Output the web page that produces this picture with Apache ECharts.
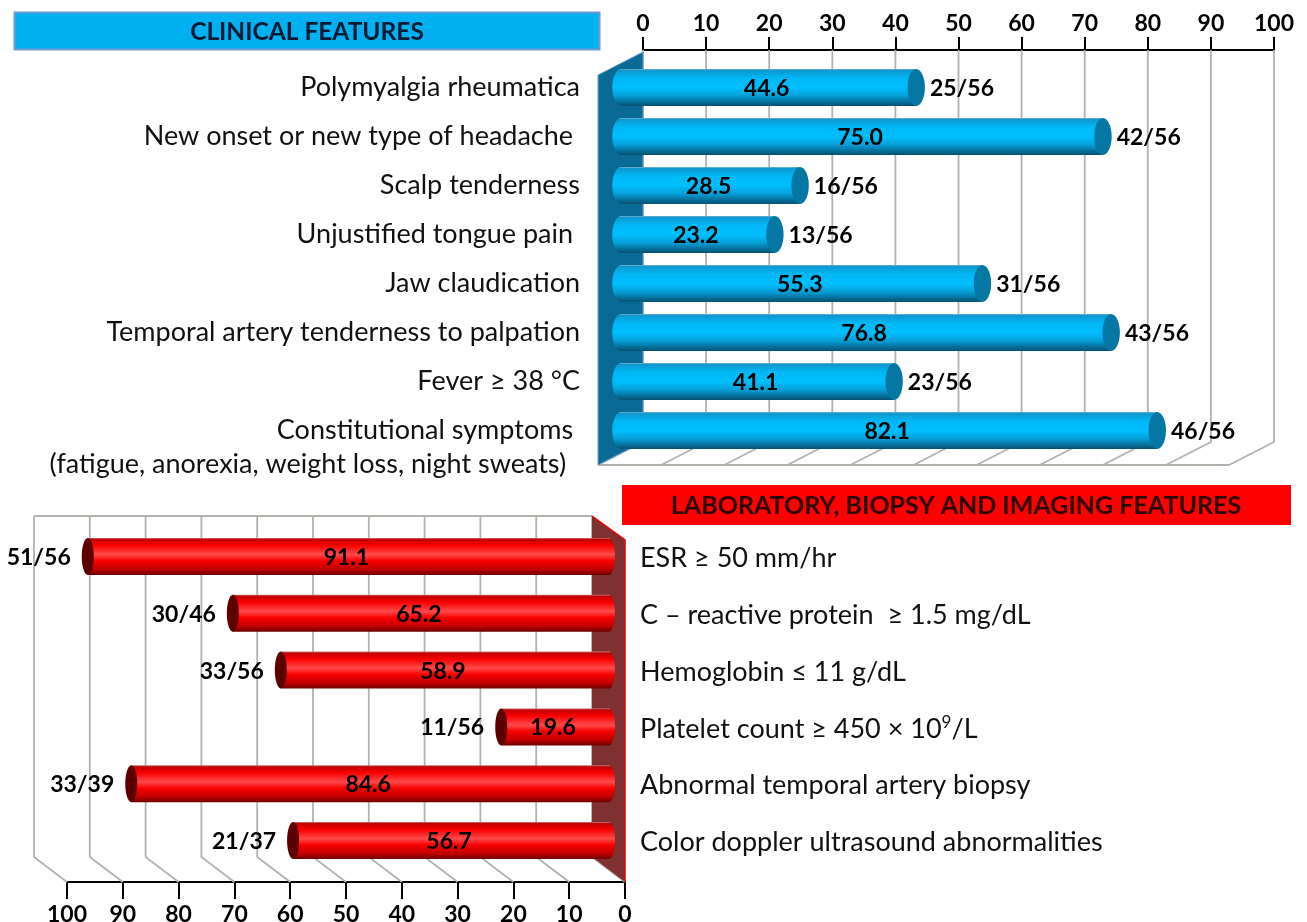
<!DOCTYPE html>
<html>
<head>
    <meta charset="utf-8"/>
    <title>Clinical and laboratory features</title>
    <script src="https://cdn.jsdelivr.net/npm/echarts@6/dist/echarts.min.js"></script>
    <style>
        html, body { margin: 0; padding: 0; background: #fff; }
    </style>
</head>
<body>
<div id="main" style="width: 1307px;height:922px;"></div>
<script type="text/javascript">
    var ticks = [0, 10, 20, 30, 40, 50, 60, 70, 80, 90, 100];

    var clinicalNames = [
        'Polymyalgia rheumatica',
        'New onset or new type of headache ',
        'Scalp tenderness',
        'Unjustified tongue pain ',
        'Jaw claudication',
        'Temporal artery tenderness to palpation',
        'Fever ≥ 38 °C',
        '\nConstitutional symptoms \n(fatigue, anorexia, weight loss, night sweats)  '
    ];
    var clinicalPct = ['44.6', '75.0', '28.5', '23.2', '55.3', '76.8', '41.1', '82.1'];
    var clinicalCount = ['25/56', '42/56', '16/56', '13/56', '31/56', '43/56', '23/56', '46/56'];
    // bar lengths, they are not quite the printed percentages
    var clinicalDrawn = [45.2, 74.8, 26.8, 22.8, 55.7, 76.1, 41.7, 83.4];

    var labNames = [
        'ESR ≥ 50 mm/hr',
        'C – reactive protein  ≥ 1.5 mg/dL',
        'Hemoglobin ≤ 11 g/dL',
        'Platelet count ≥ 450 × 10{sup|9}/L',
        'Abnormal temporal artery biopsy',
        'Color doppler ultrasound abnormalities'
    ];
    var labPct = ['91.1', '65.2', '58.9', '19.6', '84.6', '56.7'];
    var labCount = ['51/56', '30/46', '33/56', '11/56', '33/39', '21/37'];
    var labDrawn = [92.7, 66.7, 58.1, 18.6, 84.9, 55.9];

    var FONT = 'Lato';
    var LABEL_SIZE = 27;
    var GRID_COLOR = '#b5b1ad';

    var blueFill = new echarts.graphic.LinearGradient(0, 0, 0, 1, [
        {offset: 0, color: '#7db4cf'},
        {offset: 0.04, color: '#0f97cf'},
        {offset: 0.25, color: '#00b8f5'},
        {offset: 0.5, color: '#00bfff'},
        {offset: 0.72, color: '#06a0d8'},
        {offset: 0.92, color: '#06678f'},
        {offset: 1, color: '#07506f'}
    ]);
    var redFill = new echarts.graphic.LinearGradient(0, 0, 0, 1, [
        {offset: 0, color: '#c98080'},
        {offset: 0.04, color: '#c00000'},
        {offset: 0.2, color: '#f80000'},
        {offset: 0.45, color: '#ff4a4a'},
        {offset: 0.62, color: '#f80000'},
        {offset: 0.85, color: '#c00000'},
        {offset: 1, color: '#6d0000'}
    ]);

    // gridlines of the fake 3d box, both boxes sit 13 and 25 px off their axis
    function wallItem(opt) {
        return function (params, api) {
            var box = params.coordSys;
            var x = api.coord([api.value(0), 0])[0];
            return {
                type: 'polyline',
                shape: {points: opt.line(x, box)},
                style: {stroke: GRID_COLOR, lineWidth: 1.8, fill: null}
            };
        };
    }

    function bar3dItem(opt) {
        return function (params, api) {
            var i = params.dataIndex;
            var p = api.coord([api.value(0), api.value(1)]);
            var zero = api.coord([0, api.value(1)])[0];
            var y = p[1] + opt.dy;
            var h = 37;
            var end = p[0] + opt.dx;
            var start = zero + opt.startDx;
            var left = Math.min(start, end);
            var right = Math.max(start, end);
            var outer = end + opt.dir * opt.rx;
            var mid = (start - opt.dir * opt.rx + outer) / 2 - 2;
            return {
                type: 'group',
                children: [
                    {type: 'ellipse', shape: {cx: start, cy: y, rx: opt.rx, ry: h / 2}, style: {fill: opt.fill}},
                    {type: 'rect', shape: {x: left, y: y - h / 2, width: right - left, height: h}, style: {fill: opt.fill}},
                    {type: 'ellipse', shape: {cx: end, cy: y, rx: opt.rx, ry: h / 2}, style: {fill: opt.cap}},
                    {
                        type: 'text',
                        style: {
                            text: opt.pct[i], x: mid, y: y + 1, fill: '#000',
                            font: 'bold 23px ' + FONT, align: 'center', verticalAlign: 'middle'
                        }
                    },
                    {
                        type: 'text',
                        style: {
                            text: opt.count[i], x: outer + opt.dir * opt.countGap, y: y + 1, fill: '#000',
                            font: 'bold 23px ' + FONT, align: opt.dir > 0 ? 'left' : 'right', verticalAlign: 'middle'
                        }
                    }
                ]
            };
        };
    }

    function pairs(values) {
        return values.map(function (v, i) { return [v, i]; });
    }
    function tickData() {
        return ticks.map(function (t) { return [t, 0]; });
    }

    var myChart = echarts.init(document.getElementById('main'));
    var option = {
        backgroundColor: '#fff',
        animation: false,
        textStyle: {fontFamily: FONT},
        grid: [
            {left: 643, top: 63, width: 631, height: 392, outerBoundsMode: 'none'},
            {left: 67, top: 541, width: 558, height: 341, outerBoundsMode: 'none'}
        ],
        xAxis: [
            {
                gridIndex: 0, type: 'value', position: 'top', offset: 13, min: 0, max: 100, interval: 10,
                splitLine: {show: false},
                axisLine: {show: true, lineStyle: {color: '#000', width: 2}},
                axisTick: {show: true, length: 13, lineStyle: {color: '#000', width: 2}},
                axisLabel: {margin: 15, color: '#000', fontSize: 23, fontWeight: 'bold', fontFamily: FONT, hideOverlap: false}
            },
            {
                gridIndex: 1, type: 'value', position: 'bottom', inverse: true, min: 0, max: 100, interval: 10,
                splitLine: {show: false},
                axisLine: {show: true, lineStyle: {color: '#000', width: 2}},
                axisTick: {show: true, length: 17, lineStyle: {color: '#000', width: 2}},
                axisLabel: {margin: 21, color: '#000', fontSize: 23, fontWeight: 'bold', fontFamily: FONT, hideOverlap: false}
            }
        ],
        yAxis: [
            {
                gridIndex: 0, type: 'category', inverse: true, data: clinicalNames,
                axisLine: {show: false}, axisTick: {show: false},
                axisLabel: {
                    margin: 63, interval: 0, color: '#111', fontSize: LABEL_SIZE, fontFamily: FONT,
                    align: 'right', lineHeight: 34, padding: [0, 0, 3, 0]
                }
            },
            {
                gridIndex: 1, type: 'category', inverse: true, position: 'right', data: labNames,
                axisLine: {show: false}, axisTick: {show: false},
                axisLabel: {
                    margin: 15, interval: 0, color: '#111', fontSize: LABEL_SIZE, fontFamily: FONT,
                    align: 'left', padding: [0, 0, 22, 0],
                    rich: {sup: {fontSize: 17, fontFamily: FONT, color: '#111', padding: [0, 0, 12, 0]}}
                }
            }
        ],
        graphic: [
            {
                type: 'rect', shape: {x: 14.5, y: 12.5, width: 585, height: 37},
                style: {fill: '#00b0f0', stroke: '#6d9bd1', lineWidth: 2}
            },
            {
                type: 'text', x: 307, y: 32,
                style: {text: 'CLINICAL FEATURES', fill: '#0b1a33', font: 'bold 24.5px ' + FONT, align: 'center', verticalAlign: 'middle'}
            },
            {
                type: 'rect', shape: {x: 622, y: 485, width: 669, height: 40},
                style: {fill: '#ff0000'}
            },
            {
                type: 'text', x: 956, y: 506,
                style: {text: 'LABORATORY, BIOPSY AND IMAGING FEATURES', fill: '#2a0505', font: 'bold 25px ' + FONT, align: 'center', verticalAlign: 'middle'}
            }
        ],
        series: [
            {
                type: 'custom', xAxisIndex: 0, yAxisIndex: 0, z: 1, silent: true, clip: false,
                data: tickData(),
                renderItem: wallItem({
                    line: function (x, box) {
                        var back = box.y + box.height - 13;
                        return [[x, box.y - 13], [x, back], [x - 45, back + 23]];
                    }
                })
            },
            {
                type: 'custom', xAxisIndex: 0, yAxisIndex: 0, z: 2, silent: true, clip: false,
                data: [[0, 0]],
                renderItem: function (params, api) {
                    var box = params.coordSys;
                    var x = api.coord([0, 0])[0];
                    var top = box.y - 13;
                    var back = box.y + box.height - 13;
                    return {
                        type: 'group',
                        children: [
                            {
                                type: 'line',
                                shape: {x1: x - 45, y1: back + 23, x2: x - 45 + box.width, y2: back + 23},
                                style: {stroke: GRID_COLOR, lineWidth: 2}
                            },
                            {
                                type: 'polygon',
                                shape: {points: [[x, top + 2], [x, back], [x - 45, back + 23], [x - 45, top + 25]]},
                                style: {fill: '#0a6a96', stroke: '#6f9fd0', lineWidth: 1}
                            }
                        ]
                    };
                }
            },
            {
                type: 'custom', xAxisIndex: 0, yAxisIndex: 0, z: 3, silent: true, clip: false,
                data: pairs(clinicalDrawn),
                renderItem: bar3dItem({
                    dir: 1, dx: -12, dy: 0, startDx: -22, rx: 8.7,
                    fill: blueFill, cap: '#0676a3',
                    pct: clinicalPct, count: clinicalCount, countGap: 5
                })
            },
            {
                type: 'custom', xAxisIndex: 1, yAxisIndex: 1, z: 1, silent: true, clip: false,
                data: tickData(),
                renderItem: wallItem({
                    line: function (x, box) {
                        return [[x - 33, box.y - 25], [x - 33, box.y + box.height - 25], [x, box.y + box.height]];
                    }
                })
            },
            {
                type: 'custom', xAxisIndex: 1, yAxisIndex: 1, z: 2, silent: true, clip: false,
                data: [[0, 0]],
                renderItem: function (params, api) {
                    var box = params.coordSys;
                    var x = api.coord([0, 0])[0];
                    var bottom = box.y + box.height;
                    return {
                        type: 'group',
                        children: [
                            {
                                type: 'line',
                                shape: {x1: x - 33 - box.width, y1: box.y - 25, x2: x - 33, y2: box.y - 25},
                                style: {stroke: GRID_COLOR, lineWidth: 2}
                            },
                            {
                                type: 'polygon',
                                shape: {points: [[x - 33, box.y - 25], [x, box.y - 1], [x, bottom], [x - 33, bottom - 25]]},
                                style: {fill: '#7f3030'}
                            },
                            {
                                type: 'polyline',
                                shape: {points: [[x - 33, box.y - 25], [x, box.y - 1], [x, bottom]]},
                                style: {stroke: '#e80000', lineWidth: 1.5, fill: null}
                            }
                        ]
                    };
                }
            },
            {
                type: 'custom', xAxisIndex: 1, yAxisIndex: 1, z: 3, silent: true, clip: false,
                data: pairs(labDrawn),
                renderItem: bar3dItem({
                    dir: -1, dx: -20, dy: -13, startDx: -16, rx: 6,
                    fill: redFill, cap: '#5c0000',
                    pct: labPct, count: labCount, countGap: 11
                })
            }
        ]
    };
    myChart.setOption(option);
</script>
</body>
</html>
